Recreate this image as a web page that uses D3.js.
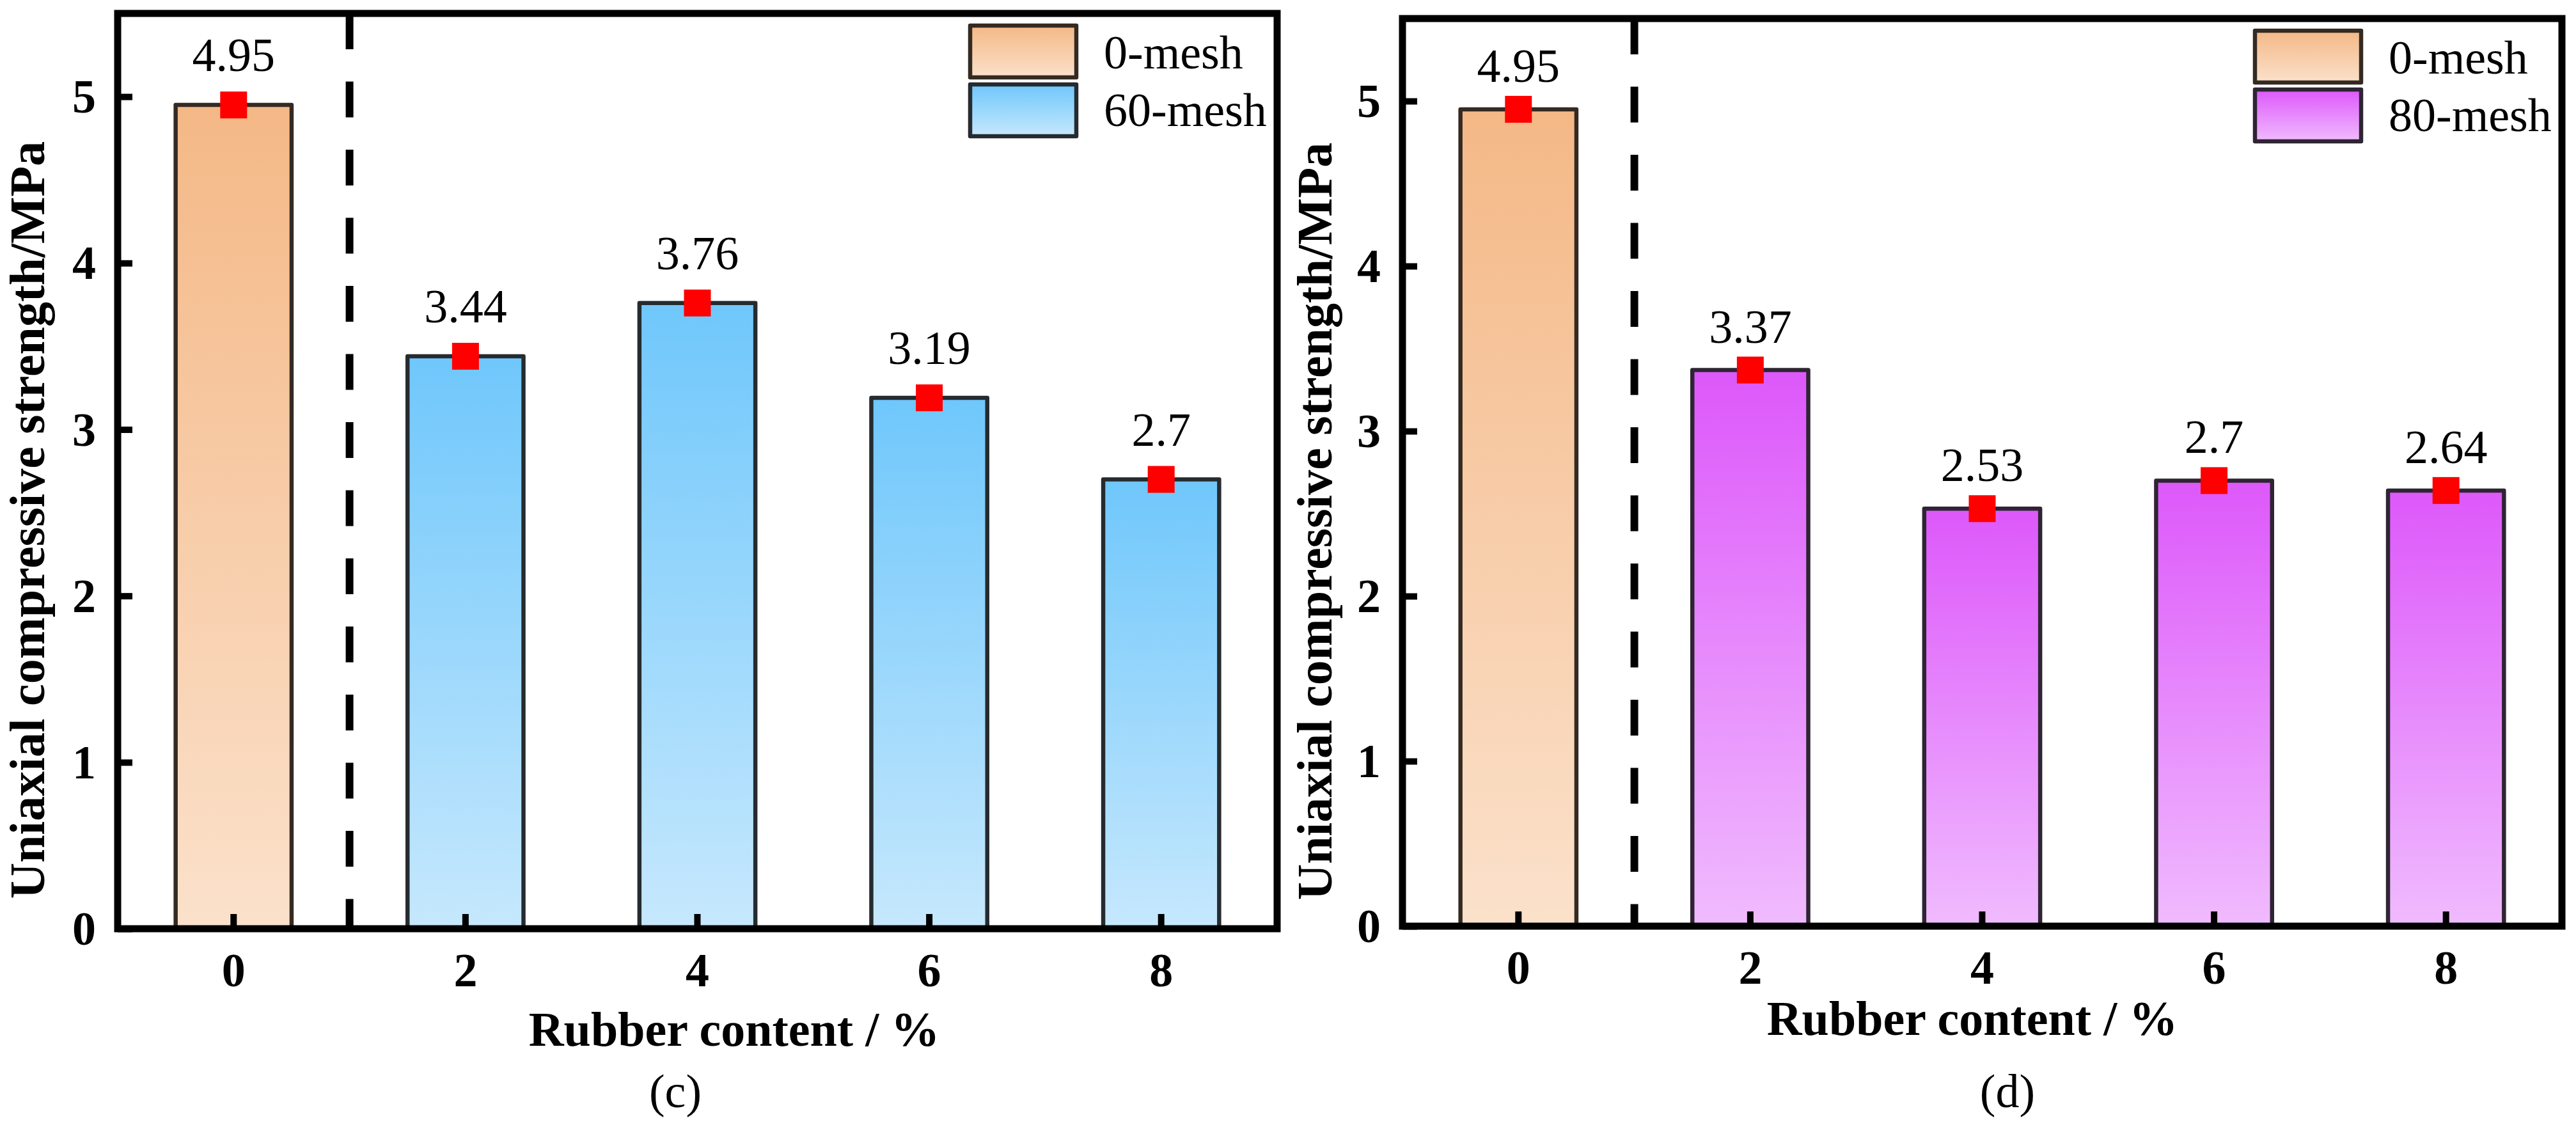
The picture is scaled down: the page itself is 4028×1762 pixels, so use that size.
<!DOCTYPE html>
<html><head><meta charset="utf-8">
<script src="https://cdn.jsdelivr.net/npm/d3@7"></script>
<style>html,body{margin:0;padding:0;background:#fff}</style>
</head><body>
<svg id="chart" width="4028" height="1762" xmlns="http://www.w3.org/2000/svg"></svg>
<script>
// ---------------- data ----------------
const categories = ["0", "2", "4", "6", "8"];
const valuesC = [4.95, 3.44, 3.76, 3.19, 2.7];
const valuesD = [4.95, 3.37, 2.53, 2.7, 2.64];
const labelsC = ["4.95", "3.44", "3.76", "3.19", "2.7"];
const labelsD = ["4.95", "3.37", "2.53", "2.7", "2.64"];
const seriesC = ["0-mesh", "60-mesh"];
const seriesD = ["0-mesh", "80-mesh"];
const yTickValues = [0, 1, 2, 3, 4, 5];
const yDomain = [0, 5.5];
const yTitle = "Uniaxial compressive strength/MPa";
const xTitle = "Rubber content / %";
const captions = ["(c)", "(d)"];

// ---------------- styling / layout ----------------
const FONT = "'Liberation Serif','Times New Roman',Times,serif";
const gradients = {
  orange: ["#f4b886", "#fbe1cb"],
  blue: ["#6fc7fb", "#c6e8fd"],
  purple: ["#dd58fa", "#f0bbfe"]
};
const strokes = { orange: "#342a22", blue: "#262b2f", purple: "#2e2433" };

const svg = d3.select("#chart");
const defs = svg.append("defs");
Object.entries(gradients).forEach(([k, c]) => {
  const g = defs.append("linearGradient").attr("id", "g-" + k)
    .attr("x1", 0).attr("y1", 0).attr("x2", 0).attr("y2", 1);
  g.append("stop").attr("offset", "0%").attr("stop-color", c[0]);
  g.append("stop").attr("offset", "100%").attr("stop-color", c[1]);
});

const panels = [
  { x0: 184, x1: 1997, yTop: 21, yBot: 1452, values: valuesC, labels: labelsC,
    series: seriesC, colors: ["orange", "blue"], gap: 53, caption: captions[0],
    yTitleX: 69, yTitleY: 813, xTitleX: 1148, xTitleY: 1635, capX: 1056, capY: 1731 },
  { x0: 2193, x1: 4006, yTop: 29, yBot: 1448, values: valuesD, labels: labelsD,
    series: seriesD, colors: ["orange", "purple"], gap: 43, caption: captions[1],
    yTitleX: 2082, yTitleY: 815, xTitleX: 3084, xTitleY: 1618, capX: 3139, capY: 1731 }
];

panels.forEach(p => {
  const g = svg.append("g");
  const x = d3.scaleBand().domain(categories).range([p.x0, p.x1])
    .paddingInner(0.5).paddingOuter(0.25);
  const y = d3.scaleLinear().domain(yDomain).range([p.yBot, p.yTop]);

  // bars
  g.selectAll("rect.bar").data(p.values).join("rect")
    .attr("class", "bar")
    .attr("x", (d, i) => x(categories[i]))
    .attr("width", x.bandwidth())
    .attr("y", d => y(d))
    .attr("height", d => y(0) - y(d))
    .attr("fill", (d, i) => `url(#g-${i === 0 ? p.colors[0] : p.colors[1]})`)
    .attr("stroke", (d, i) => strokes[i === 0 ? p.colors[0] : p.colors[1]])
    .attr("stroke-width", 6.5)
    .attr("stroke-linejoin", "round");

  // dashed separator
  const sepX = x(categories[0]) + x.step() * 0.75;
  g.append("line")
    .attr("x1", sepX).attr("x2", sepX)
    .attr("y1", p.yTop).attr("y2", p.yBot)
    .attr("stroke", "#000").attr("stroke-width", 12)
    .attr("stroke-dasharray", "56 50.5");

  // y axis (ticks inward)
  const yAxis = d3.axisRight(y).tickValues(yTickValues).tickSize(23).tickFormat("");
  const ya = g.append("g").attr("transform", `translate(${p.x0},0)`).call(yAxis);
  ya.select(".domain").remove();
  ya.selectAll(".tick line").attr("stroke", "#000").attr("stroke-width", 10);
  g.selectAll("text.ytick").data(yTickValues).join("text")
    .attr("class", "ytick")
    .attr("x", p.x0 - 34).attr("y", d => y(d)).attr("dy", "0.34em")
    .attr("text-anchor", "end")
    .attr("font-family", FONT).attr("font-weight", "bold").attr("font-size", 74)
    .text(d => d);

  // x axis (ticks inward)
  const xAxis = d3.axisTop(x).tickSize(23).tickFormat("");
  const xa = g.append("g").attr("transform", `translate(0,${p.yBot})`).call(xAxis);
  xa.select(".domain").remove();
  xa.selectAll(".tick line").attr("stroke", "#000").attr("stroke-width", 10);
  g.selectAll("text.xtick").data(categories).join("text")
    .attr("class", "xtick")
    .attr("x", d => x(d) + x.bandwidth() / 2).attr("y", p.yBot + 90)
    .attr("text-anchor", "middle")
    .attr("font-family", FONT).attr("font-weight", "bold").attr("font-size", 74)
    .text(d => d);

  // frame
  g.append("rect")
    .attr("x", p.x0).attr("y", p.yTop)
    .attr("width", p.x1 - p.x0).attr("height", p.yBot - p.yTop)
    .attr("fill", "none").attr("stroke", "#000").attr("stroke-width", 11)
    .attr("stroke-linejoin", "miter");

  // red markers
  const s = 42;
  g.selectAll("rect.mk").data(p.values).join("rect")
    .attr("class", "mk")
    .attr("x", (d, i) => x(categories[i]) + x.bandwidth() / 2 - s / 2)
    .attr("y", d => y(d) - s / 2)
    .attr("width", s).attr("height", s)
    .attr("fill", "#ff0000");

  // value labels
  g.selectAll("text.val").data(p.values).join("text")
    .attr("class", "val")
    .attr("x", (d, i) => x(categories[i]) + x.bandwidth() / 2)
    .attr("y", d => y(d) - p.gap)
    .attr("text-anchor", "middle")
    .attr("font-family", FONT).attr("font-size", 74)
    .text((d, i) => p.labels[i]);

  // legend
  const lx = p.x1 - 480, ly = p.yTop + 19;
  p.series.forEach((name, i) => {
    g.append("rect")
      .attr("x", lx).attr("y", ly + i * 92)
      .attr("width", 166).attr("height", 81)
      .attr("fill", `url(#g-${p.colors[i]})`)
      .attr("stroke", strokes[p.colors[i]]).attr("stroke-width", 6.5)
      .attr("stroke-linejoin", "round");
    g.append("text")
      .attr("x", p.x1 - 271).attr("y", ly + 67 + i * 90)
      .attr("font-family", FONT).attr("font-size", 74)
      .text(name);
  });

  // titles
  g.append("text")
    .attr("transform", `translate(${p.yTitleX},${p.yTitleY}) rotate(-90)`)
    .attr("text-anchor", "middle")
    .attr("font-family", FONT).attr("font-weight", "bold").attr("font-size", 78)
    .text(yTitle);
  g.append("text")
    .attr("x", p.xTitleX).attr("y", p.xTitleY)
    .attr("text-anchor", "middle")
    .attr("font-family", FONT).attr("font-weight", "bold").attr("font-size", 76)
    .text(xTitle);
  g.append("text")
    .attr("x", p.capX).attr("y", p.capY)
    .attr("text-anchor", "middle")
    .attr("font-family", FONT).attr("font-size", 74)
    .text(p.caption);
});
</script>
</body></html>
